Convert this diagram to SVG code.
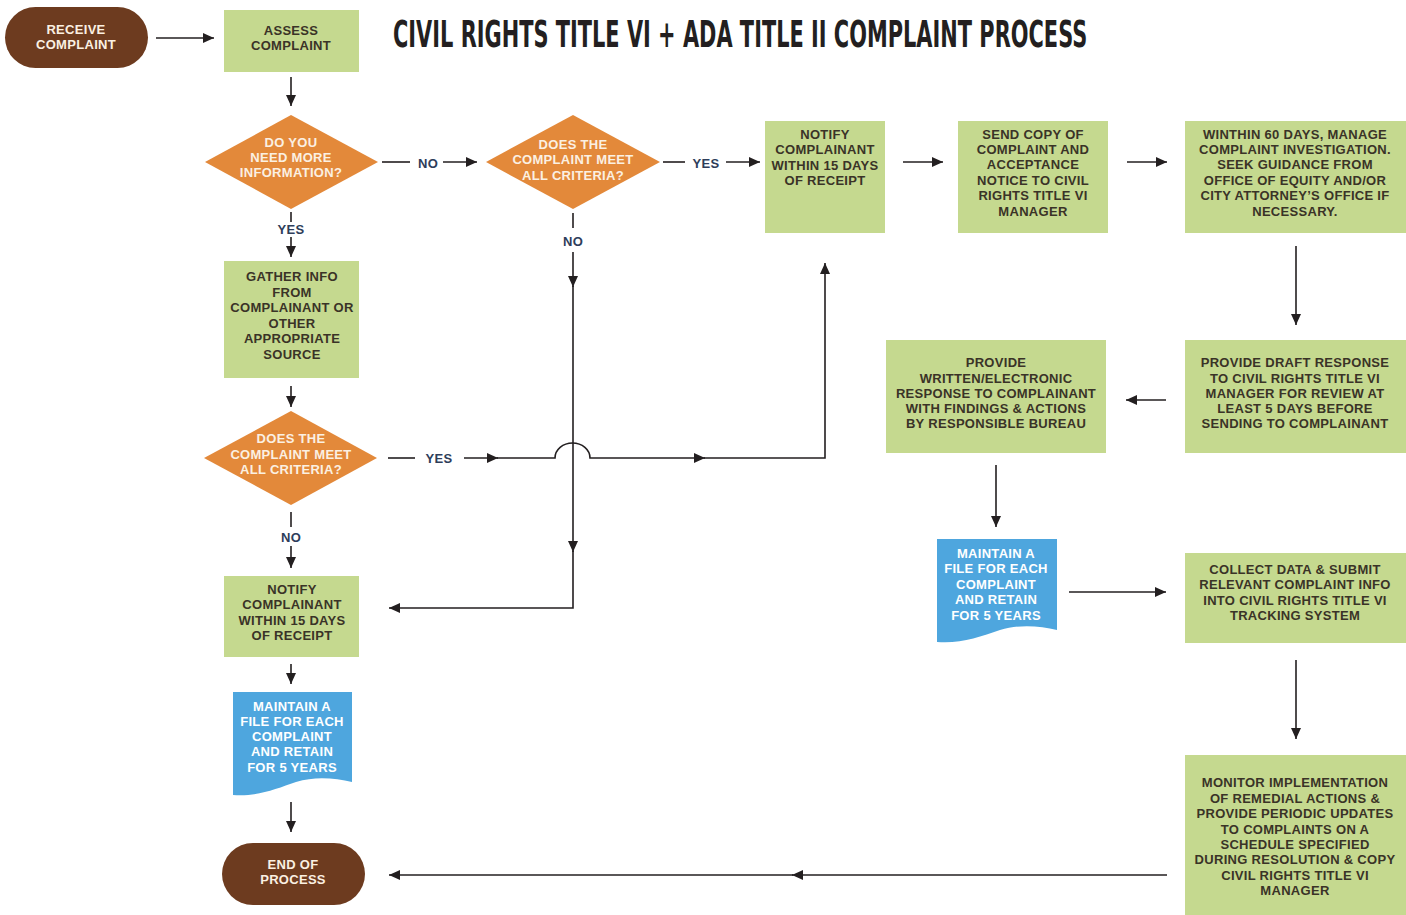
<svg xmlns="http://www.w3.org/2000/svg" width="1406" height="915" viewBox="0 0 1406 915">
<defs>
<marker id="ah" markerUnits="userSpaceOnUse" markerWidth="11" markerHeight="10" refX="11" refY="5" orient="auto">
<path d="M0,0 L11,5 L0,10 Z" fill="#231f20"/>
</marker>
<style>
.t{font-family:"Liberation Sans",Arial,sans-serif;font-weight:bold;font-size:13px;letter-spacing:0.3px;text-anchor:middle;fill:#3a3327}
.w{fill:#fbf0e2}
.wb{fill:#ffffff}
.lbl{font-family:"Liberation Sans",Arial,sans-serif;font-weight:bold;font-size:13px;letter-spacing:0.3px;text-anchor:middle;fill:#2e3d5a}
.box{fill:#c5d98f}
.dia{fill:#e3893a}
.pill{fill:#6d3b1f}
.doc{fill:#4ea6de}
.ln{fill:none;stroke:#231f20;stroke-width:1.6}
.title{font-family:"Liberation Sans Narrow","DejaVu Sans Condensed","Liberation Sans",sans-serif;font-weight:bold;font-size:38px;fill:#231f20}
</style>
</defs>
<rect width="1406" height="915" fill="#ffffff"/>
<g id="title" transform="translate(393,47) scale(0.6,1)">
<text class="title" x="0" y="0" textLength="1157" lengthAdjust="spacingAndGlyphs">CIVIL RIGHTS TITLE VI + ADA TITLE II COMPLAINT PROCESS</text>
</g>

<g id="connectors">
<path class="ln" d="M156,38 H214" marker-end="url(#ah)"/>
<path class="ln" d="M291,77 V106" marker-end="url(#ah)"/>
<path class="ln" d="M382,162 H410"/>
<path class="ln" d="M443,162 H477" marker-end="url(#ah)"/>
<path class="ln" d="M663,162 H685"/>
<path class="ln" d="M726,162 H760" marker-end="url(#ah)"/>
<path class="ln" d="M903,162 H943" marker-end="url(#ah)"/>
<path class="ln" d="M1127,162 H1167" marker-end="url(#ah)"/>
<path class="ln" d="M1296,246 V325" marker-end="url(#ah)"/>
<path class="ln" d="M1166,400 H1126" marker-end="url(#ah)"/>
<path class="ln" d="M996,465 V527" marker-end="url(#ah)"/>
<path class="ln" d="M1069,592 H1166" marker-end="url(#ah)"/>
<path class="ln" d="M1296,660 V739" marker-end="url(#ah)"/>
<path class="ln" d="M1167,875 H792" marker-end="url(#ah)"/>
<path class="ln" d="M793,875 H389" marker-end="url(#ah)"/>
<path class="ln" d="M291,212 V222"/>
<path class="ln" d="M291,237 V257" marker-end="url(#ah)"/>
<path class="ln" d="M291,386 V407" marker-end="url(#ah)"/>
<path class="ln" d="M291,512 V527"/>
<path class="ln" d="M291,546 V568" marker-end="url(#ah)"/>
<path class="ln" d="M291,664 V684" marker-end="url(#ah)"/>
<path class="ln" d="M291,802 V832" marker-end="url(#ah)"/>
<path class="ln" d="M573,213 V228"/>
<path class="ln" d="M573,252 V287" marker-end="url(#ah)"/>
<path class="ln" d="M573,286 V552" marker-end="url(#ah)"/>
<path class="ln" d="M573,551 V608 H389" marker-end="url(#ah)"/>
<path class="ln" d="M388,458 H415"/>
<path class="ln" d="M464,458 H498" marker-end="url(#ah)"/>
<path class="ln" d="M497,458 H555 A17.5,15 0 0 1 590,458 H705" marker-end="url(#ah)"/>
<path class="ln" d="M704,458 H825 V263" marker-end="url(#ah)"/>
</g>

<g id="labels">
<text class="lbl" x="428" y="168">NO</text>
<text class="lbl" x="706" y="168">YES</text>
<text class="lbl" x="291" y="234">YES</text>
<text class="lbl" x="573" y="246">NO</text>
<text class="lbl" x="439" y="463">YES</text>
<text class="lbl" x="291" y="542">NO</text>
</g>

<g id="receive">
<rect class="pill" x="5" y="7" width="143" height="61" rx="30.5"/>
<text class="t w"><tspan x="76" y="34">RECEIVE</tspan><tspan x="76" y="49">COMPLAINT</tspan></text>
</g>
<g id="assess">
<rect class="box" x="224" y="10" width="135" height="62"/>
<text class="t"><tspan x="291" y="35">ASSESS</tspan><tspan x="291" y="50">COMPLAINT</tspan></text>
</g>
<g id="need-info">
<polygon class="dia" points="291,115 378,162 291,209 205,162"/>
<text class="t w"><tspan x="291" y="147">DO YOU</tspan><tspan x="291" y="162">NEED MORE</tspan><tspan x="291" y="177">INFORMATION?</tspan></text>
</g>
<g id="criteria-1">
<polygon class="dia" points="573,115 660,162 573,209 486,162"/>
<text class="t w"><tspan x="573" y="149">DOES THE</tspan><tspan x="573" y="164">COMPLAINT MEET</tspan><tspan x="573" y="180">ALL CRITERIA?</tspan></text>
</g>
<g id="notify-1">
<rect class="box" x="765" y="121" width="120" height="112"/>
<text class="t"><tspan x="825" y="139">NOTIFY</tspan><tspan x="825" y="154">COMPLAINANT</tspan><tspan x="825" y="170">WITHIN 15 DAYS</tspan><tspan x="825" y="185">OF RECEIPT</tspan></text>
</g>
<g id="send-copy">
<rect class="box" x="958" y="121" width="150" height="112"/>
<text class="t"><tspan x="1033" y="139">SEND COPY OF</tspan><tspan x="1033" y="154">COMPLAINT AND</tspan><tspan x="1033" y="169">ACCEPTANCE</tspan><tspan x="1033" y="185">NOTICE TO CIVIL</tspan><tspan x="1033" y="200">RIGHTS TITLE VI</tspan><tspan x="1033" y="216">MANAGER</tspan></text>
</g>
<g id="investigation">
<rect class="box" x="1185" y="121" width="221" height="112"/>
<text class="t"><tspan x="1295" y="139">WINTHIN 60 DAYS, MANAGE</tspan><tspan x="1295" y="154">COMPLAINT INVESTIGATION.</tspan><tspan x="1295" y="169">SEEK GUIDANCE FROM</tspan><tspan x="1295" y="185">OFFICE OF EQUITY AND/OR</tspan><tspan x="1295" y="200">CITY ATTORNEY’S OFFICE IF</tspan><tspan x="1295" y="216">NECESSARY.</tspan></text>
</g>
<g id="gather-info">
<rect class="box" x="224" y="261" width="135" height="117"/>
<text class="t"><tspan x="292" y="281">GATHER INFO</tspan><tspan x="292" y="297">FROM</tspan><tspan x="292" y="312">COMPLAINANT OR</tspan><tspan x="292" y="328">OTHER</tspan><tspan x="292" y="343">APPROPRIATE</tspan><tspan x="292" y="359">SOURCE</tspan></text>
</g>
<g id="criteria-2">
<polygon class="dia" points="291,411 377,458 291,505 204,458"/>
<text class="t w"><tspan x="291" y="443">DOES THE</tspan><tspan x="291" y="459">COMPLAINT MEET</tspan><tspan x="291" y="474">ALL CRITERIA?</tspan></text>
</g>
<g id="draft-response">
<rect class="box" x="1185" y="340" width="221" height="113"/>
<text class="t"><tspan x="1295" y="367">PROVIDE DRAFT RESPONSE</tspan><tspan x="1295" y="383">TO CIVIL RIGHTS TITLE VI</tspan><tspan x="1295" y="398">MANAGER FOR REVIEW AT</tspan><tspan x="1295" y="413">LEAST 5 DAYS BEFORE</tspan><tspan x="1295" y="428">SENDING TO COMPLAINANT</tspan></text>
</g>
<g id="written-response">
<rect class="box" x="886" y="340" width="220" height="113"/>
<text class="t"><tspan x="996" y="367">PROVIDE</tspan><tspan x="996" y="383">WRITTEN/ELECTRONIC</tspan><tspan x="996" y="398">RESPONSE TO COMPLAINANT</tspan><tspan x="996" y="413">WITH FINDINGS &amp; ACTIONS</tspan><tspan x="996" y="428">BY RESPONSIBLE BUREAU</tspan></text>
</g>
<g id="file-right">
<path class="doc" d="M937,539 H1057 V630 C1040,626 1020,624 1000,630 C980,637 960,644 937,642 Z"/>
<text class="t wb"><tspan x="996" y="558">MAINTAIN A</tspan><tspan x="996" y="573">FILE FOR EACH</tspan><tspan x="996" y="589">COMPLAINT</tspan><tspan x="996" y="604">AND RETAIN</tspan><tspan x="996" y="620">FOR 5 YEARS</tspan></text>
</g>
<g id="collect-data">
<rect class="box" x="1185" y="553" width="221" height="90"/>
<text class="t"><tspan x="1295" y="574">COLLECT DATA &amp; SUBMIT</tspan><tspan x="1295" y="589">RELEVANT COMPLAINT INFO</tspan><tspan x="1295" y="605">INTO CIVIL RIGHTS TITLE VI</tspan><tspan x="1295" y="620">TRACKING SYSTEM</tspan></text>
</g>
<g id="notify-2">
<rect class="box" x="224" y="576" width="135" height="81"/>
<text class="t"><tspan x="292" y="594">NOTIFY</tspan><tspan x="292" y="609">COMPLAINANT</tspan><tspan x="292" y="625">WITHIN 15 DAYS</tspan><tspan x="292" y="640">OF RECEIPT</tspan></text>
</g>
<g id="file-left">
<path class="doc" d="M233,692 H352 V782 C335,778 315,776 296,782 C276,789 256,797 233,795 Z"/>
<text class="t wb"><tspan x="292" y="711">MAINTAIN A</tspan><tspan x="292" y="726">FILE FOR EACH</tspan><tspan x="292" y="741">COMPLAINT</tspan><tspan x="292" y="756">AND RETAIN</tspan><tspan x="292" y="772">FOR 5 YEARS</tspan></text>
</g>
<g id="monitor">
<rect class="box" x="1185" y="755" width="221" height="160"/>
<text class="t"><tspan x="1295" y="787">MONITOR IMPLEMENTATION</tspan><tspan x="1295" y="803">OF REMEDIAL ACTIONS &amp;</tspan><tspan x="1295" y="818">PROVIDE PERIODIC UPDATES</tspan><tspan x="1295" y="834">TO COMPLAINTS ON A</tspan><tspan x="1295" y="849">SCHEDULE SPECIFIED</tspan><tspan x="1295" y="864">DURING RESOLUTION &amp; COPY</tspan><tspan x="1295" y="880">CIVIL RIGHTS TITLE VI</tspan><tspan x="1295" y="895">MANAGER</tspan></text>
</g>
<g id="end">
<rect class="pill" x="222" y="843" width="143" height="62" rx="31"/>
<text class="t w"><tspan x="293" y="869">END OF</tspan><tspan x="293" y="884">PROCESS</tspan></text>
</g>
</svg>
